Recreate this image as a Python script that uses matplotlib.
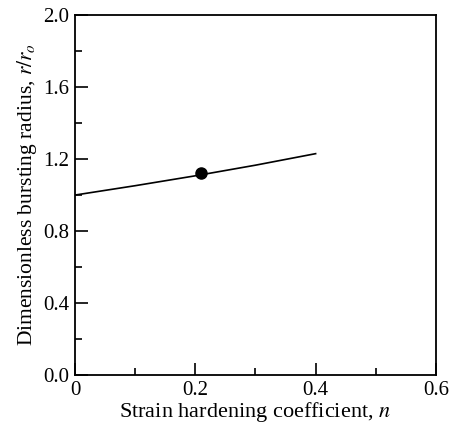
import numpy as np
import matplotlib
import matplotlib.pyplot as plt
from matplotlib.ticker import MultipleLocator

matplotlib.use("Agg")
plt.rcParams['font.family'] = 'Liberation Serif'
plt.rcParams['mathtext.fontset'] = 'stix'

n_values = [0.0, 0.1, 0.2, 0.3, 0.4]
radius = [1.0, 1.052, 1.107, 1.166, 1.23]
point_n = [0.21]
point_r = [1.12]

fig = plt.figure(figsize=(4.55, 4.32), dpi=100)
ax = fig.add_axes([0.165, 0.132, 0.793, 0.833])

ax.plot(n_values, radius, color='black', linewidth=1.2)
ax.plot(point_n, point_r, 'o', color='black', markersize=8)

ax.set_xlim(0, 0.6)
ax.set_ylim(0, 2.0)
ax.xaxis.set_major_locator(MultipleLocator(0.2))
ax.xaxis.set_minor_locator(MultipleLocator(0.1))
ax.yaxis.set_major_locator(MultipleLocator(0.4))
ax.yaxis.set_minor_locator(MultipleLocator(0.2))
ax.set_xticks([0, 0.2, 0.4, 0.6])
ax.set_xticklabels(['0', '0.2', '0.4', '0.6'])
ax.set_yticklabels(['%.1f' % v for v in ax.get_yticks()])

ax.tick_params(which='major', direction='in', length=9, width=1.2, labelsize=15, pad=4)
ax.tick_params(which='minor', direction='in', length=5, width=1.2)
for s in ax.spines.values():
    s.set_linewidth(1.3)

ax.set_xlabel('Strain hardening coefficient, $n$', fontsize=16, labelpad=0)
ax.set_ylabel('Dimensionless bursting radius, $r/r_o$', fontsize=15.5, labelpad=3)

plt.savefig('out.png', dpi=100)
